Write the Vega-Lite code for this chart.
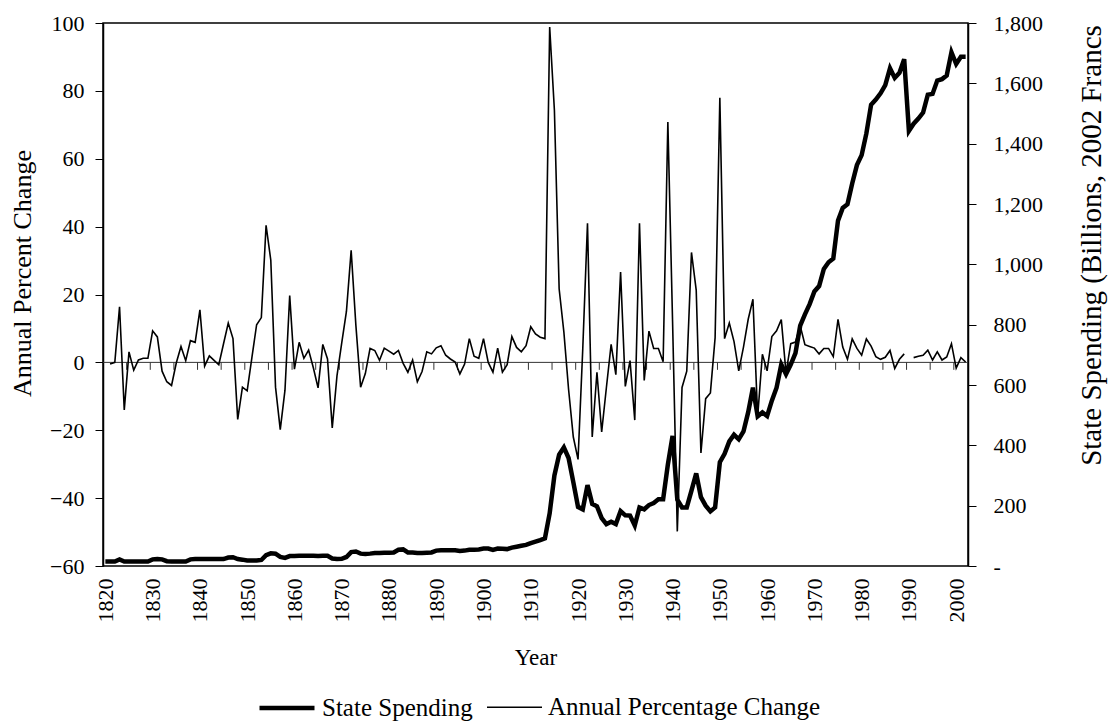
{
  "$schema": "https://vega.github.io/schema/vega-lite/v6.json",
  "width": 865,
  "height": 543,
  "autosize": {"type": "none"},
  "padding": {"left": 103, "top": 23, "right": 145, "bottom": 158},
  "background": "white",
  "config": {
    "font": "Liberation Serif",
    "view": {"stroke": "black", "strokeWidth": 1.5},
    "axis": {
      "labelFont": "Liberation Serif",
      "titleFont": "Liberation Serif",
      "labelFontSize": 22,
      "titleFontSize": 26,
      "titleFontWeight": "normal",
      "labelColor": "black",
      "titleColor": "black",
      "domainColor": "black",
      "tickColor": "black",
      "grid": false
    }
  },
  "datasets": {
    "main": [
      {"year": 1820, "spending": 15, "pct": null},
      {"year": 1821, "spending": 15, "pct": -0.5},
      {"year": 1822, "spending": 15, "pct": 0},
      {"year": 1823, "spending": 22, "pct": 16.4},
      {"year": 1824, "spending": 15, "pct": -14},
      {"year": 1825, "spending": 15, "pct": 3.1},
      {"year": 1826, "spending": 15, "pct": -2.3},
      {"year": 1827, "spending": 15, "pct": 0.7},
      {"year": 1828, "spending": 15, "pct": 1.2},
      {"year": 1829, "spending": 15, "pct": 1.2},
      {"year": 1830, "spending": 22, "pct": 9.3},
      {"year": 1831, "spending": 23, "pct": 7.5},
      {"year": 1832, "spending": 22, "pct": -2.6},
      {"year": 1833, "spending": 16, "pct": -5.7},
      {"year": 1834, "spending": 15, "pct": -6.8},
      {"year": 1835, "spending": 15, "pct": -0.2},
      {"year": 1836, "spending": 15, "pct": 4.7},
      {"year": 1837, "spending": 15, "pct": 0.5},
      {"year": 1838, "spending": 22, "pct": 6.4},
      {"year": 1839, "spending": 23, "pct": 5.9},
      {"year": 1840, "spending": 23, "pct": 15.5},
      {"year": 1841, "spending": 23, "pct": -1.1},
      {"year": 1842, "spending": 23, "pct": 1.9},
      {"year": 1843, "spending": 23, "pct": 0.6},
      {"year": 1844, "spending": 23, "pct": -0.7},
      {"year": 1845, "spending": 23, "pct": 5.5},
      {"year": 1846, "spending": 28, "pct": 11.6},
      {"year": 1847, "spending": 29, "pct": 7.0},
      {"year": 1848, "spending": 23, "pct": -16.8},
      {"year": 1849, "spending": 21, "pct": -7.3},
      {"year": 1850, "spending": 18, "pct": -8.4},
      {"year": 1851, "spending": 18, "pct": 1.4},
      {"year": 1852, "spending": 18, "pct": 11.1},
      {"year": 1853, "spending": 20, "pct": 13.2},
      {"year": 1854, "spending": 36, "pct": 40.4},
      {"year": 1855, "spending": 42, "pct": 30.1},
      {"year": 1856, "spending": 41, "pct": -7.3},
      {"year": 1857, "spending": 30, "pct": -19.8},
      {"year": 1858, "spending": 27, "pct": -8.2},
      {"year": 1859, "spending": 33, "pct": 19.7},
      {"year": 1860, "spending": 33, "pct": -2.0},
      {"year": 1861, "spending": 34, "pct": 5.9},
      {"year": 1862, "spending": 34, "pct": 1.2},
      {"year": 1863, "spending": 34, "pct": 3.6},
      {"year": 1864, "spending": 34, "pct": -1.6},
      {"year": 1865, "spending": 33, "pct": -7.5},
      {"year": 1866, "spending": 34, "pct": 5.3},
      {"year": 1867, "spending": 34, "pct": 1.0},
      {"year": 1868, "spending": 25, "pct": -19.3},
      {"year": 1869, "spending": 23, "pct": -4.0},
      {"year": 1870, "spending": 24, "pct": 5.7},
      {"year": 1871, "spending": 30, "pct": 15.0},
      {"year": 1872, "spending": 46, "pct": 33.0},
      {"year": 1873, "spending": 48, "pct": 10.9},
      {"year": 1874, "spending": 41, "pct": -7.3},
      {"year": 1875, "spending": 40, "pct": -3.3},
      {"year": 1876, "spending": 41, "pct": 4.1},
      {"year": 1877, "spending": 43, "pct": 3.5},
      {"year": 1878, "spending": 43, "pct": 0.6},
      {"year": 1879, "spending": 44, "pct": 4.2},
      {"year": 1880, "spending": 44, "pct": 3.3},
      {"year": 1881, "spending": 45, "pct": 2.4},
      {"year": 1882, "spending": 54, "pct": 3.5},
      {"year": 1883, "spending": 55, "pct": -0.3},
      {"year": 1884, "spending": 45, "pct": -2.9},
      {"year": 1885, "spending": 45, "pct": 0.7},
      {"year": 1886, "spending": 43, "pct": -5.7},
      {"year": 1887, "spending": 43, "pct": -2.7},
      {"year": 1888, "spending": 44, "pct": 3.1},
      {"year": 1889, "spending": 45, "pct": 2.5},
      {"year": 1890, "spending": 51, "pct": 4.3},
      {"year": 1891, "spending": 52, "pct": 4.9},
      {"year": 1892, "spending": 52, "pct": 2.1},
      {"year": 1893, "spending": 52, "pct": 1.0},
      {"year": 1894, "spending": 52, "pct": 0.1},
      {"year": 1895, "spending": 50, "pct": -3.4},
      {"year": 1896, "spending": 51, "pct": -0.5},
      {"year": 1897, "spending": 54, "pct": 7.0},
      {"year": 1898, "spending": 54, "pct": 1.8},
      {"year": 1899, "spending": 55, "pct": 1.2},
      {"year": 1900, "spending": 58, "pct": 7.0},
      {"year": 1901, "spending": 58, "pct": 0.0},
      {"year": 1902, "spending": 53, "pct": -2.9},
      {"year": 1903, "spending": 58, "pct": 4.2},
      {"year": 1904, "spending": 57, "pct": -2.9},
      {"year": 1905, "spending": 56, "pct": -0.7},
      {"year": 1906, "spending": 61, "pct": 7.6},
      {"year": 1907, "spending": 64, "pct": 4.4},
      {"year": 1908, "spending": 67, "pct": 3.1},
      {"year": 1909, "spending": 70, "pct": 4.9},
      {"year": 1910, "spending": 76, "pct": 10.5},
      {"year": 1911, "spending": 81, "pct": 8.4},
      {"year": 1912, "spending": 86, "pct": 7.4},
      {"year": 1913, "spending": 92, "pct": 7.0},
      {"year": 1914, "spending": 175, "pct": 98.8},
      {"year": 1915, "spending": 300, "pct": 74.3},
      {"year": 1916, "spending": 369, "pct": 21.7},
      {"year": 1917, "spending": 393, "pct": 9.0},
      {"year": 1918, "spending": 358, "pct": -8.0},
      {"year": 1919, "spending": 278, "pct": -22.0},
      {"year": 1920, "spending": 196, "pct": -28.6},
      {"year": 1921, "spending": 188, "pct": 4.0},
      {"year": 1922, "spending": 268, "pct": 41.0},
      {"year": 1923, "spending": 206, "pct": -22.0},
      {"year": 1924, "spending": 198, "pct": -2.9},
      {"year": 1925, "spending": 159, "pct": -20.5},
      {"year": 1926, "spending": 139, "pct": -7.4},
      {"year": 1927, "spending": 147, "pct": 5.3},
      {"year": 1928, "spending": 139, "pct": -3.6},
      {"year": 1929, "spending": 182, "pct": 26.6},
      {"year": 1930, "spending": 168, "pct": -7.1},
      {"year": 1931, "spending": 167, "pct": 0.5},
      {"year": 1932, "spending": 134, "pct": -17.0},
      {"year": 1933, "spending": 194, "pct": 41.0},
      {"year": 1934, "spending": 188, "pct": -5.3},
      {"year": 1935, "spending": 202, "pct": 9.2},
      {"year": 1936, "spending": 209, "pct": 4.1},
      {"year": 1937, "spending": 221, "pct": 4.1},
      {"year": 1938, "spending": 221, "pct": 0.2},
      {"year": 1939, "spending": 336, "pct": 70.8},
      {"year": 1940, "spending": 431, "pct": 12.0},
      {"year": 1941, "spending": 220, "pct": -49.8},
      {"year": 1942, "spending": 194, "pct": -7.4},
      {"year": 1943, "spending": 194, "pct": -2.6},
      {"year": 1944, "spending": 250, "pct": 32.4},
      {"year": 1945, "spending": 307, "pct": 21.3},
      {"year": 1946, "spending": 228, "pct": -26.7},
      {"year": 1947, "spending": 200, "pct": -10.7},
      {"year": 1948, "spending": 181, "pct": -9.0},
      {"year": 1949, "spending": 194, "pct": 7.3},
      {"year": 1950, "spending": 344, "pct": 78.0},
      {"year": 1951, "spending": 372, "pct": 7.0},
      {"year": 1952, "spending": 413, "pct": 11.6},
      {"year": 1953, "spending": 435, "pct": 6.1},
      {"year": 1954, "spending": 420, "pct": -2.5},
      {"year": 1955, "spending": 446, "pct": 4.5},
      {"year": 1956, "spending": 510, "pct": 12.7},
      {"year": 1957, "spending": 591, "pct": 18.6},
      {"year": 1958, "spending": 496, "pct": -16.0},
      {"year": 1959, "spending": 509, "pct": 2.4},
      {"year": 1960, "spending": 497, "pct": -2.5},
      {"year": 1961, "spending": 548, "pct": 7.6},
      {"year": 1962, "spending": 591, "pct": 9.3},
      {"year": 1963, "spending": 668, "pct": 12.6},
      {"year": 1964, "spending": 636, "pct": -3.1},
      {"year": 1965, "spending": 668, "pct": 5.5},
      {"year": 1966, "spending": 706, "pct": 6.0},
      {"year": 1967, "spending": 797, "pct": 10.8},
      {"year": 1968, "spending": 834, "pct": 5.2},
      {"year": 1969, "spending": 868, "pct": 4.7},
      {"year": 1970, "spending": 910, "pct": 4.2},
      {"year": 1971, "spending": 928, "pct": 2.5},
      {"year": 1972, "spending": 985, "pct": 4.1},
      {"year": 1973, "spending": 1007, "pct": 4.1},
      {"year": 1974, "spending": 1019, "pct": 1.7},
      {"year": 1975, "spending": 1145, "pct": 12.7},
      {"year": 1976, "spending": 1187, "pct": 4.5},
      {"year": 1977, "spending": 1199, "pct": 0.9},
      {"year": 1978, "spending": 1268, "pct": 6.9},
      {"year": 1979, "spending": 1329, "pct": 4.1},
      {"year": 1980, "spending": 1362, "pct": 2.1},
      {"year": 1981, "spending": 1434, "pct": 6.9},
      {"year": 1982, "spending": 1529, "pct": 4.8},
      {"year": 1983, "spending": 1546, "pct": 1.7},
      {"year": 1984, "spending": 1567, "pct": 0.9},
      {"year": 1985, "spending": 1594, "pct": 1.5},
      {"year": 1986, "spending": 1650, "pct": 3.5},
      {"year": 1987, "spending": 1618, "pct": -1.8},
      {"year": 1988, "spending": 1635, "pct": 0.9},
      {"year": 1989, "spending": 1680, "pct": 2.5},
      {"year": 1990, "spending": 1442, "pct": null},
      {"year": 1991, "spending": 1466, "pct": 1.4},
      {"year": 1992, "spending": 1483, "pct": 1.8},
      {"year": 1993, "spending": 1503, "pct": 2.1},
      {"year": 1994, "spending": 1562, "pct": 3.6},
      {"year": 1995, "spending": 1565, "pct": 0.7},
      {"year": 1996, "spending": 1609, "pct": 3.1},
      {"year": 1997, "spending": 1614, "pct": 0.7},
      {"year": 1998, "spending": 1626, "pct": 1.6},
      {"year": 1999, "spending": 1703, "pct": 5.5},
      {"year": 2000, "spending": 1664, "pct": -1.7},
      {"year": 2001, "spending": 1688, "pct": 1.4},
      {"year": 2002, "spending": 1688, "pct": 0.1}
    ],
    "ticks": [
      {"b": 1824.5}, {"b": 1829.5}, {"b": 1834.5}, {"b": 1839.5}, {"b": 1844.5}, {"b": 1849.5},
      {"b": 1854.5}, {"b": 1859.5}, {"b": 1864.5}, {"b": 1869.5}, {"b": 1874.5}, {"b": 1879.5},
      {"b": 1884.5}, {"b": 1889.5}, {"b": 1894.5}, {"b": 1899.5}, {"b": 1904.5}, {"b": 1909.5},
      {"b": 1914.5}, {"b": 1919.5}, {"b": 1924.5}, {"b": 1929.5}, {"b": 1934.5}, {"b": 1939.5},
      {"b": 1944.5}, {"b": 1949.5}, {"b": 1954.5}, {"b": 1959.5}, {"b": 1964.5}, {"b": 1969.5},
      {"b": 1974.5}, {"b": 1979.5}, {"b": 1984.5}, {"b": 1989.5}, {"b": 1994.5}, {"b": 1999.5}
    ]
  },
  "layer": [
    {
      "layer": [
        {
          "data": {"values": [{}]},
          "mark": {"type": "rule", "color": "#333333", "strokeWidth": 1},
          "encoding": {
            "y": {"datum": 0, "type": "quantitative", "scale": {"domain": [-60, 100], "nice": false}}
          }
        },
        {
          "data": {"name": "ticks"},
          "mark": {"type": "rule", "color": "#333333", "strokeWidth": 1},
          "encoding": {
            "x": {"field": "b", "type": "quantitative", "scale": {"domain": [1819.5, 2002.5], "nice": false, "zero": false}},
            "y": {"datum": 0, "type": "quantitative"},
            "y2": {"datum": -2.2}
          }
        },
        {
          "data": {"name": "main"},
          "mark": {"type": "line", "color": "black", "invalid": "break-paths-filter-domains"},
          "encoding": {
            "x": {
              "field": "year",
              "type": "quantitative",
              "scale": {"domain": [1819.5, 2002.5], "nice": false, "zero": false},
              "axis": {
                "orient": "bottom",
                "values": [1820, 1830, 1840, 1850, 1860, 1870, 1880, 1890, 1900, 1910, 1920, 1930, 1940, 1950, 1960, 1970, 1980, 1990, 2000],
                "format": "d",
                "labelAngle": 270,
                "ticks": false,
                "tickSize": 0,
                "domain": false,
                "labelPadding": 12,
                "title": "Year",
                "titleFontSize": 23,
                "titlePadding": 24
              }
            },
            "y": {
              "field": "pct",
              "type": "quantitative",
              "scale": {"domain": [-60, 100], "nice": false},
              "axis": {
                "orient": "left",
                "values": [-60, -40, -20, 0, 20, 40, 60, 80, 100],
                "tickSize": 8,
                "labelPadding": 11,
                "domainWidth": 1.5,
                "title": "Annual Percent Change",
                "titleFontSize": 26,
                "titlePadding": 14,
                "titleY": 250
              }
            },
            "strokeWidth": {"datum": "Annual Percentage Change", "type": "nominal"}
          }
        }
      ]
    },
    {
      "data": {"name": "main"},
      "mark": {"type": "line", "color": "black"},
      "encoding": {
        "x": {"field": "year", "type": "quantitative", "scale": {"domain": [1819.5, 2002.5], "nice": false, "zero": false}},
        "y": {
          "field": "spending",
          "type": "quantitative",
          "scale": {"domain": [0, 1800], "nice": false},
          "axis": {
            "orient": "right",
            "values": [0, 200, 400, 600, 800, 1000, 1200, 1400, 1600, 1800],
            "labelExpr": "datum.value === 0 ? '-' : format(datum.value, ',')",
            "tickSize": 8,
            "labelPadding": 17,
            "domainWidth": 1.5,
            "title": "State Spending (Billions, 2002 Francs",
            "titleFontSize": 29,
            "titleAngle": 270,
            "titleBaseline": "top",
            "titlePadding": 35,
            "titleY": 222
          }
        },
        "strokeWidth": {
          "datum": "State Spending",
          "type": "nominal",
          "scale": {"domain": ["State Spending", "Annual Percentage Change"], "range": [4.5, 1.6]},
          "legend": {
            "orient": "none",
            "legendX": 154,
            "legendY": 655,
            "direction": "horizontal",
            "title": null,
            "symbolType": "stroke",
            "symbolSize": 3025,
            "symbolStrokeColor": "black",
            "labelFont": "Liberation Serif",
            "labelFontSize": 25,
            "labelLimit": 500,
            "labelColor": "black",
            "labelOffset": 5,
            "columnPadding": 10
          }
        }
      }
    }
  ],
  "resolve": {"scale": {"y": "independent"}}
}
